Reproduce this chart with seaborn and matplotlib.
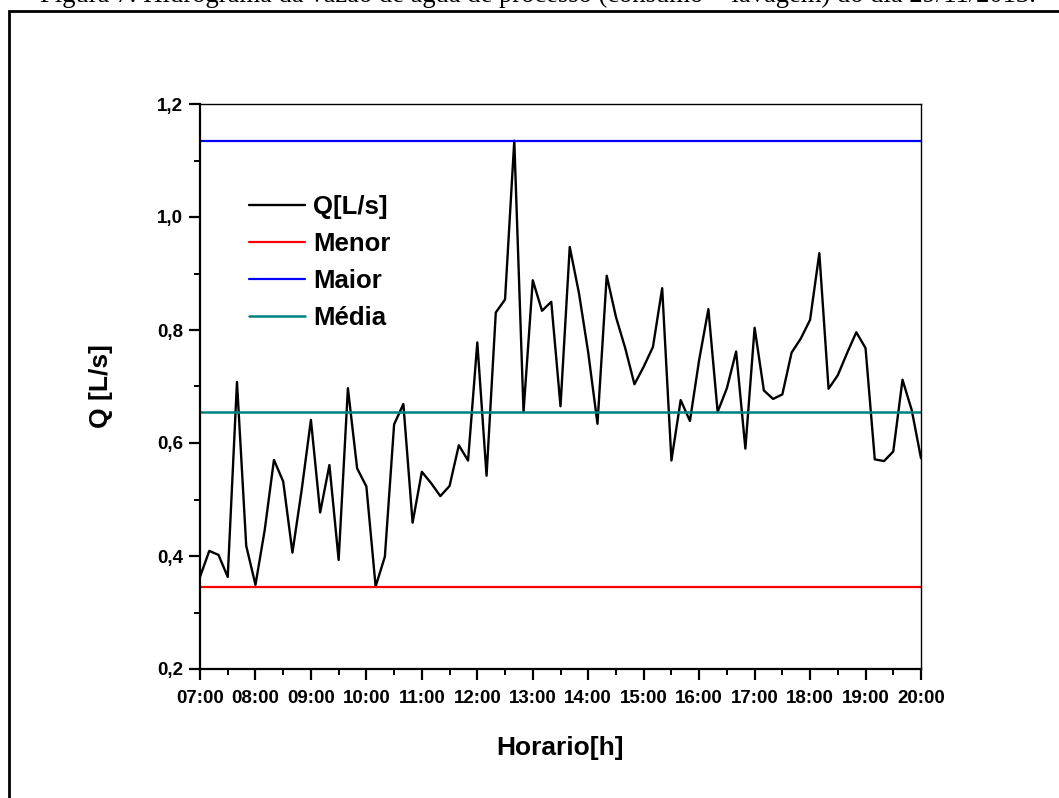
import numpy as np
import pandas as pd
import matplotlib
matplotlib.use("Agg")
import matplotlib.pyplot as plt
from matplotlib.patches import Rectangle
from matplotlib.ticker import MultipleLocator, FixedLocator
import seaborn as sns

# ---- data ----
title = "Figura 7: Hidrograma da vazão de água de processo (consumo + lavagem) do dia 29/11/2013."
start_hour = 7
step_min = 10
q_values = [0.363, 0.409, 0.402, 0.363, 0.708, 0.418, 0.349, 0.446, 0.570, 0.532,
            0.406, 0.517, 0.641, 0.477, 0.561, 0.393, 0.697, 0.555, 0.523, 0.346,
            0.399, 0.633, 0.669, 0.459, 0.549, 0.529, 0.506, 0.524, 0.596, 0.569,
            0.778, 0.542, 0.831, 0.854, 1.135, 0.655, 0.888, 0.834, 0.850, 0.665,
            0.947, 0.865, 0.760, 0.634, 0.896, 0.823, 0.768, 0.704, 0.735, 0.770,
            0.874, 0.569, 0.676, 0.639, 0.747, 0.837, 0.655, 0.697, 0.762, 0.590,
            0.804, 0.693, 0.678, 0.686, 0.760, 0.785, 0.818, 0.936, 0.696, 0.720,
            0.759, 0.796, 0.768, 0.571, 0.568, 0.585, 0.712, 0.658, 0.573]
menor = 0.346
maior = 1.135
media = 0.655
hour_ticks = list(range(7, 21))
hour_labels = ["07:00", "08:00", "09:00", "10:00", "11:00", "12:00", "13:00",
               "14:00", "15:00", "16:00", "17:00", "18:00", "19:00", "20:00"]
y_ticks = [0.2, 0.4, 0.6, 0.8, 1.0, 1.2]
y_labels = ["0,2", "0,4", "0,6", "0,8", "1,0", "1,2"]

hours = start_hour + np.arange(len(q_values)) * step_min / 60.0
df = pd.DataFrame({"hora": hours, "Q": q_values})

sns.set_style("ticks")
plt.rcParams["font.family"] = ["Liberation Sans", "DejaVu Sans"]
plt.rcParams["font.weight"] = "bold"
plt.rcParams["text.color"] = "black"
plt.rcParams["axes.labelcolor"] = "black"
plt.rcParams["xtick.color"] = "black"
plt.rcParams["ytick.color"] = "black"
plt.rcParams["axes.edgecolor"] = "black"

fig = plt.figure(figsize=(10.59, 7.98), dpi=100)
ax = fig.add_axes([200/1059, 1-669/798, 721/1059, 565/798])

sns.lineplot(data=df, x="hora", y="Q", ax=ax, color="black", lw=1.7, label="Q[L/s]")
ax.axhline(menor, color="#ff0000", lw=1.6, label="Menor")
ax.axhline(maior, color="#0000ff", lw=1.6, label="Maior")
ax.axhline(media, color="#008080", lw=1.8, label="Média")

ax.set_xlim(7, 20)
ax.set_ylim(0.2, 1.2)
ax.xaxis.set_major_locator(FixedLocator(hour_ticks))
ax.set_xticklabels(hour_labels)
ax.xaxis.set_minor_locator(MultipleLocator(0.5))
ax.yaxis.set_major_locator(FixedLocator(y_ticks))
ax.set_yticklabels(y_labels)
ax.yaxis.set_minor_locator(MultipleLocator(0.1))
ax.tick_params(axis="both", which="major", direction="out", length=8, width=1.6,
               labelsize=13.5, pad=4, colors="black")
ax.tick_params(axis="x", which="major", pad=7)
ax.tick_params(axis="both", which="minor", direction="out", length=4.5, width=1.4,
               colors="black")
for lab in ax.get_xticklabels() + ax.get_yticklabels():
    lab.set_fontweight("bold")

for s in ["left", "bottom"]:
    ax.spines[s].set_linewidth(1.6)
for s in ["top", "right"]:
    ax.spines[s].set_linewidth(1.0)

ax.set_xlabel("Horario[h]", fontsize=19, fontweight="bold", labelpad=21, color="black")
ax.set_ylabel("Q [L/s]", fontsize=19, fontweight="bold", labelpad=32, color="black")

leg = ax.legend(loc="upper left", bbox_to_anchor=(0.0676, 0.839), frameon=False,
                fontsize=18.5, handlelength=2.2, handletextpad=0.3,
                labelspacing=0.5, borderpad=0, borderaxespad=0)
for t in leg.get_texts():
    t.set_fontweight("bold")
    t.set_color("black")

# page frame and caption, cropped at the top as in the source page
fig.patches.append(Rectangle((8.7/1059, -0.1), 1.2, 1 - 11.2/798 + 0.1,
                             transform=fig.transFigure, fill=False,
                             edgecolor="black", lw=2.0, zorder=0))
fig.text(537.5/1059, 1 - 2.5/798, title, ha="center", va="baseline",
         fontsize=19.2, family="Liberation Serif", fontweight="normal", color="black")

fig.savefig("out.png", dpi=100)
